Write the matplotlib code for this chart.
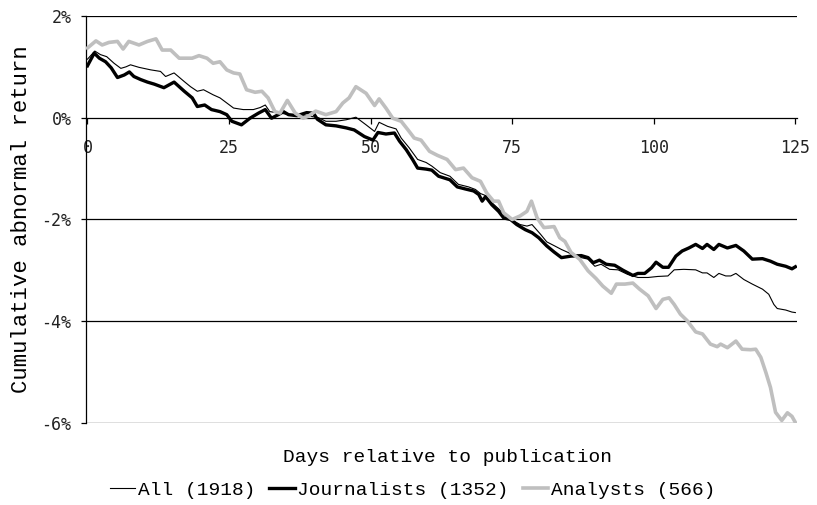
import matplotlib
matplotlib.use("Agg")
import matplotlib.pyplot as plt
from matplotlib.ticker import FuncFormatter

# cumulative abnormal return (%), by day relative to publication
days_all = [0, 1.3, 2.3, 3.4, 4.7, 5.9, 6.8, 7.6, 9.1, 11.2, 12.9, 13.8, 15.3, 17.1, 18.2,
            19.4, 20.5, 22.2, 23.4, 24.6, 25.8, 27.5, 29.3, 30.5, 31.4, 32.2, 34, 35.8, 37.5,
            39.3, 40.8, 42.1, 43.9, 45.7, 47.4, 49.2, 50.7, 51.5, 53, 54.5, 55.4, 56.8, 58.3,
            59.8, 60.8, 62.3, 64, 65.5, 67.3, 68.5, 69.4, 70.3, 71.1, 72.6, 73.8, 75.3, 76.4,
            77.6, 78.5, 80, 81.1, 82.5, 83.7, 84.9, 86, 87.2, 88.4, 89.6, 90.7, 92.2, 93.7,
            95.4, 97.2, 99, 100.7, 102.5, 103.6, 105.3, 107.4, 108.6, 109.4, 110.6, 111.5,
            112.7, 113.6, 114.5, 115.9, 117.4, 119.2, 120.3, 121.2, 121.8, 123.3, 124.4, 125]
car_all = [1.15, 1.31, 1.24, 1.20, 1.07, 0.97, 1.00, 1.04, 0.99, 0.94, 0.91, 0.81, 0.88, 0.71,
           0.61, 0.52, 0.55, 0.45, 0.39, 0.29, 0.19, 0.16, 0.16, 0.20, 0.25, 0.12, 0.09, 0.06,
           0.04, 0.03, 0.00, -0.07, -0.07, -0.04, 0.01, -0.14, -0.27, -0.09, -0.17, -0.22,
           -0.40, -0.59, -0.82, -0.88, -0.95, -1.08, -1.15, -1.31, -1.36, -1.41, -1.49, -1.53,
           -1.64, -1.79, -1.93, -2.03, -2.10, -2.13, -2.10, -2.29, -2.44, -2.52, -2.59, -2.65,
           -2.72, -2.75, -2.78, -2.92, -2.88, -2.98, -2.99, -3.08, -3.14, -3.14, -3.12, -3.11,
           -2.99, -2.98, -2.99, -3.05, -3.05, -3.14, -3.06, -3.11, -3.11, -3.06, -3.18, -3.27,
           -3.37, -3.47, -3.67, -3.75, -3.78, -3.82, -3.83]

days_jour = [0, 1.2, 2.1, 3.2, 4.2, 5.3, 6.5, 7.4, 8.2, 9.4, 10.6, 11.8, 13.5, 15.3, 17.1,
             18.5, 19.4, 20.7, 21.9, 23.4, 24.6, 25.5, 27.2, 28.7, 30.2, 31.4, 32.5, 33.7,
             34.6, 35.5, 37, 38.7, 39.9, 40.6, 42.1, 43.9, 45.7, 47.1, 48.9, 50.4, 51.3, 52.7,
             54.2, 55.1, 56.3, 57.4, 58.3, 59.8, 60.8, 62, 64, 65.3, 66.7, 68.2, 69.1, 69.7,
             70.3, 71.4, 72.6, 73.5, 74.7, 75.8, 77.3, 78.5, 79.7, 81.1, 82.4, 83.7, 85.4,
             87.2, 88.4, 89.3, 90.4, 91.6, 93.1, 94.6, 96.3, 97.2, 98.4, 99.6, 100.4, 101.6,
             102.6, 103.9, 105, 106.2, 107.4, 108.6, 109.4, 110.6, 111.5, 113, 114.5, 115.9,
             117.4, 119.2, 120.6, 121.8, 123.3, 124.4, 125]
car_jour = [1.02, 1.27, 1.17, 1.10, 0.98, 0.79, 0.84, 0.90, 0.81, 0.75, 0.70, 0.66, 0.59, 0.70,
            0.52, 0.39, 0.22, 0.25, 0.16, 0.12, 0.06, -0.07, -0.14, -0.01, 0.09, 0.16, -0.01,
            0.06, 0.12, 0.06, 0.04, 0.10, 0.09, -0.03, -0.14, -0.16, -0.20, -0.24, -0.37,
            -0.44, -0.29, -0.32, -0.30, -0.46, -0.63, -0.82, -0.99, -1.01, -1.03, -1.15, -1.22,
            -1.36, -1.40, -1.44, -1.51, -1.64, -1.55, -1.71, -1.84, -1.97, -2.00, -2.10, -2.20,
            -2.26, -2.36, -2.52, -2.64, -2.75, -2.72, -2.71, -2.75, -2.85, -2.80, -2.88, -2.90,
            -3.00, -3.10, -3.06, -3.06, -2.95, -2.84, -2.94, -2.94, -2.72, -2.62, -2.56, -2.49,
            -2.57, -2.49, -2.59, -2.49, -2.56, -2.51, -2.62, -2.78, -2.77, -2.82, -2.88, -2.92,
            -2.97, -2.93]

days_anal = [0, 1.5, 2.6, 3.8, 5.3, 6.3, 7.3, 9.1, 10.6, 12.1, 13.2, 14.7, 16.2, 18.5, 19.7,
             21.1, 22.2, 23.4, 24.6, 25.8, 26.9, 28.1, 29.6, 30.8, 31.9, 33.1, 34, 35.3, 36.7,
             38.1, 39, 40.3, 42.1, 43.9, 45.1, 46.2, 47.4, 49.2, 50.7, 51.5, 52.7, 53.9, 55.4,
             56.6, 57.7, 58.9, 60.4, 61.8, 63.5, 65, 66.4, 67.9, 69.4, 70.5, 71.7, 72.6, 73.5,
             75, 76.4, 77.6, 78.4, 79.4, 80.6, 82.4, 83.4, 84.3, 85.4, 86.9, 88.4, 89.8, 91,
             92.5, 93.4, 94.9, 96.3, 97.5, 99, 100.4, 101.6, 102.7, 103.6, 104.7, 105.9, 107.4,
             108.6, 110, 111.2, 111.8, 113, 114.5, 115.6, 117.1, 118, 118.9, 119.8, 120.6,
             121.5, 122.6, 123.6, 124.4, 125]
car_anal = [1.37, 1.51, 1.43, 1.48, 1.50, 1.35, 1.50, 1.43, 1.50, 1.55, 1.33, 1.33, 1.17, 1.17,
            1.22, 1.17, 1.07, 1.10, 0.94, 0.88, 0.86, 0.55, 0.50, 0.52, 0.39, 0.12, 0.09, 0.34,
            0.09, -0.01, 0.03, 0.13, 0.06, 0.12, 0.29, 0.39, 0.61, 0.48, 0.24, 0.37, 0.19,
            -0.01, -0.07, -0.24, -0.40, -0.44, -0.66, -0.74, -0.82, -1.02, -0.99, -1.18, -1.25,
            -1.48, -1.64, -1.64, -1.87, -2.00, -1.93, -1.84, -1.64, -1.97, -2.16, -2.14, -2.36,
            -2.43, -2.65, -2.78, -3.01, -3.16, -3.31, -3.45, -3.27, -3.27, -3.25, -3.37, -3.50,
            -3.75, -3.57, -3.54, -3.67, -3.86, -3.99, -4.21, -4.25, -4.45, -4.50, -4.45, -4.52,
            -4.39, -4.55, -4.56, -4.55, -4.71, -5.01, -5.30, -5.79, -5.95, -5.80, -5.87, -5.99]

labels = ['All (1918)', 'Journalists (1352)', 'Analysts (566)']
x_ticks = [0, 25, 50, 75, 100, 125]
y_ticks = [2, 0, -2, -4, -6]

LABEL_FONT = 'Liberation Mono'
TICK_FONT = 'DejaVu Sans Mono'

fig = plt.figure(figsize=(8.17, 5.05), dpi=100)
ax = fig.add_axes([0.1053, 0.1624, 0.8703, 0.806])

# horizontal grid lines (0% is the x-axis itself)
for yv in [2, -2, -4, -6]:
    ax.axhline(yv, color='black', linewidth=0.9, zorder=1)

ax.plot(days_all, car_all, color='black', linewidth=0.8, label=labels[0], zorder=3)
ax.plot(days_jour, car_jour, color='black', linewidth=2.4, label=labels[1], zorder=3)
ax.plot(days_anal, car_anal, color='#bfbfbf', linewidth=2.6, label=labels[2], zorder=4)

ax.set_xlim(-0.25, 125.3)
ax.set_ylim(-6, 2)

for s in ['top', 'right']:
    ax.spines[s].set_visible(False)
ax.spines['bottom'].set_position(('data', 0))
ax.spines['bottom'].set_linewidth(0.9)
ax.spines['left'].set_linewidth(0.9)

ax.set_xticks(x_ticks)
ax.set_yticks(y_ticks)
ax.yaxis.set_major_formatter(FuncFormatter(lambda v, p: f'{v:.0f}%'))
ax.tick_params(axis='x', direction='out', length=4.5, width=0.9, pad=11, colors='#222222')
ax.tick_params(axis='y', direction='out', length=3.5, width=0.9, pad=7, colors='#222222')
ax.tick_params(axis='both', color='black')
for lab in ax.get_xticklabels() + ax.get_yticklabels():
    lab.set_fontfamily(TICK_FONT)
    lab.set_fontsize(12)

ax.set_ylabel('Cumulative abnormal return', fontfamily=LABEL_FONT, fontsize=16, labelpad=7)
fig.text(0.548, 1 - 457 / 505, 'Days relative to publication', fontfamily=LABEL_FONT,
         fontsize=14, ha='center', va='center')

fig.legend(loc='center', bbox_to_anchor=(0.505, 1 - 490 / 505), ncol=3, frameon=False,
           prop={'family': LABEL_FONT, 'size': 14}, handlelength=1.3, handletextpad=0.15,
           columnspacing=0.7, borderaxespad=0)

fig.savefig('out.png', dpi=100)
